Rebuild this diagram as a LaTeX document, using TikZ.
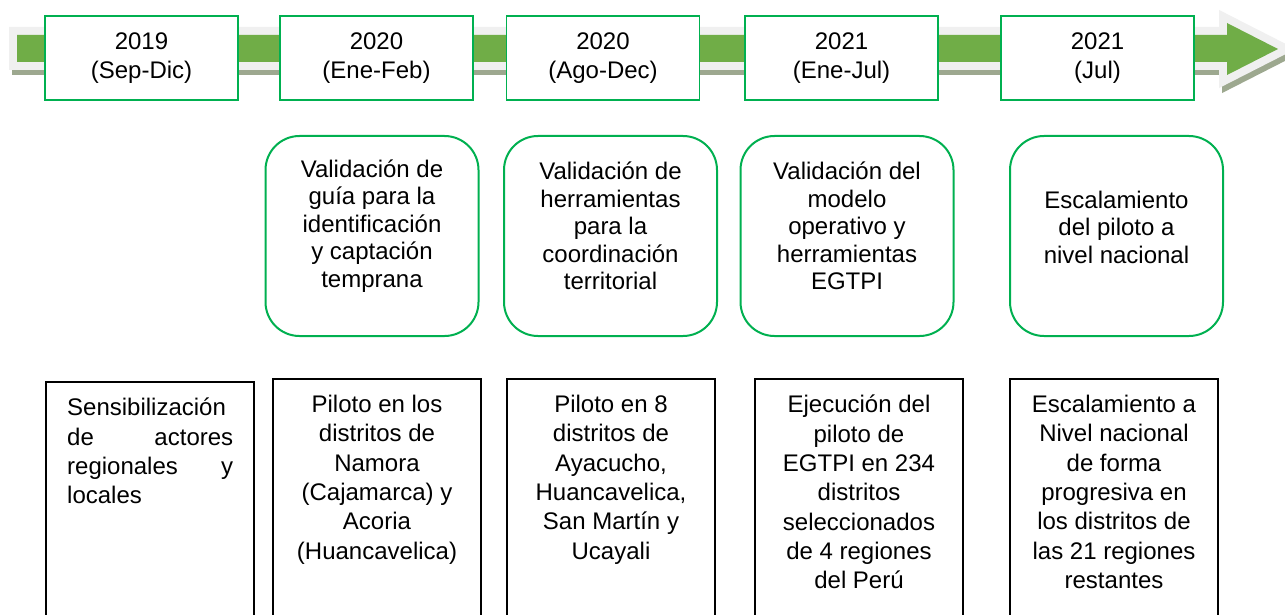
\documentclass[tikz,border=0pt]{standalone}
\usepackage{fontspec}
\setmainfont{Liberation Sans}
\definecolor{boxgreen}{HTML}{00B050}
\definecolor{arrowgreen}{HTML}{70AD47}
\definecolor{arrowgray}{HTML}{F0F0F0}
\definecolor{arrowshadow}{HTML}{9DA88F}
\tikzset{
  yearbox/.style={draw=boxgreen, line width=1.8pt, fill=white, minimum width=193pt, minimum height=84pt, inner sep=0pt, align=center, font=\fontsize{24}{28.5}\selectfont},
  phasebox/.style={draw=boxgreen, line width=2pt, fill=white, rounded corners=34pt, minimum width=213pt, minimum height=200pt, inner sep=0pt},
  phasetext/.style={inner sep=0pt, align=center, font=\fontsize{24}{27.5}\selectfont},
  actbox/.style={draw=black, line width=1.5pt, fill=white, minimum width=208pt, minimum height=262pt, inner sep=0pt},
  acttext/.style={inner sep=0pt, anchor=north, align=center, font=\fontsize{24}{29.3}\selectfont},
}
\begin{document}
\begin{tikzpicture}[x=1pt,y=-1pt]
\useasboundingbox (0,0) rectangle (1285,615);
\clip (0,0) rectangle (1285,615);
\fill[white] (0,0) rectangle (1285,615);
% timeline arrow
\draw[arrowshadow, fill=arrowshadow, line width=16pt, line join=miter, shift={(3,5)}]
  (17,35) -- (1227,35) -- (1227,23) -- (1278,49) -- (1227,75) -- (1227,62) -- (17,62) -- cycle;
\draw[arrowgray, fill=arrowgray, line width=16pt, line join=miter]
  (17,35) -- (1227,35) -- (1227,23) -- (1278,49) -- (1227,75) -- (1227,62) -- (17,62) -- cycle;
\fill[arrowgreen]
  (17,35) -- (1227,35) -- (1227,23) -- (1278,49) -- (1227,75) -- (1227,62) -- (17,62) -- cycle;
% year boxes
\node[yearbox] (y1) at (141.5,58) {2019\\(Sep-Dic)};
\node[yearbox] (y2) at (376.5,58) {2020\\(Ene-Feb)};
\node[yearbox] (y3) at (603,58) {2020\\(Ago-Dec)};
\node[yearbox] (y4) at (841.5,58) {2021\\(Ene-Jul)};
\node[yearbox] (y5) at (1097.5,58) {2021\\(Jul)};
% phase boxes
\node[phasebox] (p2) at (372,236) {};
\node[phasebox] (p3) at (610.5,236) {};
\node[phasebox] (p4) at (847,236) {};
\node[phasebox] (p5) at (1116.5,236) {};
\node[phasetext] (p2t) at (372,226) {Validación de\\guía para la\\identificación\\y captación\\temprana};
\node[phasetext] (p3t) at (610.5,226) {Validación de\\herramientas\\para la\\coordinación\\territorial};
\node[phasetext] (p4t) at (847,226) {Validación del\\modelo\\operativo y\\herramientas\\EGTPI};
\node[phasetext] (p5t) at (1116.5,227) {Escalamiento\\del piloto a\\nivel nacional};
% activity boxes
\node[actbox, anchor=north] (a1) at (150,381) {};
\node[actbox, anchor=north] (a2) at (377,378) {};
\node[actbox, anchor=north] (a3) at (611,378) {};
\node[actbox, anchor=north] (a4) at (859,378) {};
\node[actbox, anchor=north] (a5) at (1114,378) {};
\node[acttext, anchor=north west] (a1t) at (67,398) {\parbox[t]{166pt}{\fontsize{24}{29.3}\selectfont Sensibilización\\de\hfill actores\\regionales\hfill y\\locales}};
\node[acttext] (a2t) at ([yshift=-17pt]a2.north) {Piloto en los\\distritos de\\Namora\\(Cajamarca) y\\Acoria\\(Huancavelica)};
\node[acttext] (a3t) at ([yshift=-17pt]a3.north) {Piloto en 8\\distritos de\\Ayacucho,\\Huancavelica,\\San Martín y\\Ucayali};
\node[acttext] (a4t) at ([yshift=-17pt]a4.north) {Ejecución del\\piloto de\\EGTPI en 234\\distritos\\seleccionados\\de 4 regiones\\del Perú};
\node[acttext] (a5t) at ([yshift=-17pt]a5.north) {Escalamiento a\\Nivel nacional\\de forma\\progresiva en\\los distritos de\\las 21 regiones\\restantes};
\end{tikzpicture}
\end{document}
